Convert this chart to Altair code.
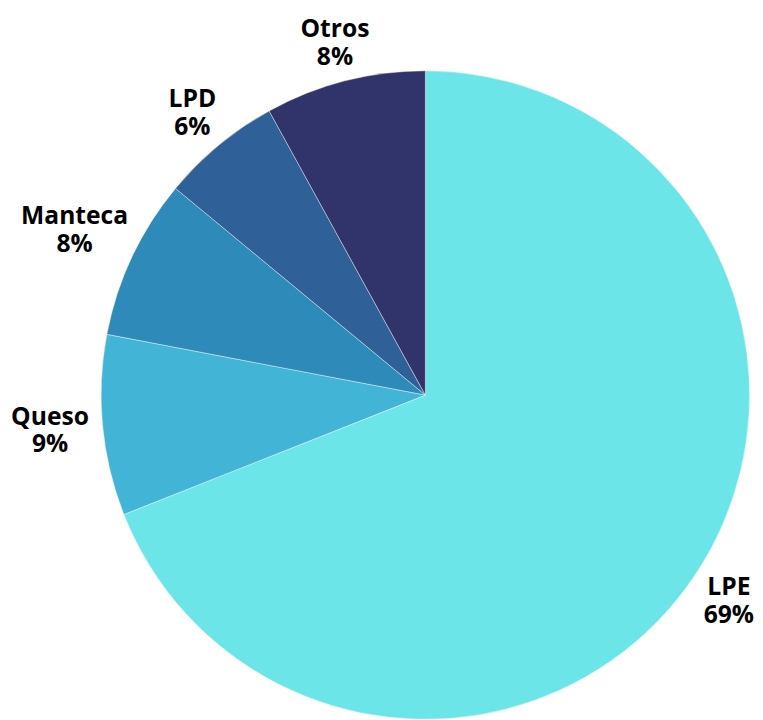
import altair as alt
import pandas as pd
import numpy as np

categories = ["LPE", "Queso", "Manteca", "LPD", "Otros"]
values = [69, 9, 8, 6, 8]
colors = ["#6be5e8", "#42b5d6", "#2e8ab8", "#2f6098", "#30346b"]

df = pd.DataFrame({"cat": categories, "value": values, "idx": list(range(len(categories)))})
df["pct"] = df["value"].astype(str) + "%"
df["label"] = df["cat"] + "\n" + df["pct"]
# label angle/radius derived from the values (mid-angle of each slice, label width)
total = df["value"].sum()
df["mid"] = (df["value"].cumsum() - df["value"] / 2) / total * 2 * np.pi
hw = df.apply(lambda r: max(len(r["cat"]), len(r["pct"])) * 7.8, axis=1)
df["lr"] = 353 + 0.74 * hw * np.abs(np.sin(df["mid"])) + 9 * np.abs(np.cos(df["mid"]))

CX, CY, R = 423.5, 387.5, 329

arcs = alt.Chart(df).mark_arc(outerRadius=R, stroke="white", strokeWidth=0.4).encode(
    theta=alt.Theta("value:Q", stack=True),
    order=alt.Order("idx:Q"),
    x=alt.value(CX),
    y=alt.value(CY),
    color=alt.Color("cat:N", scale=alt.Scale(domain=categories, range=colors), legend=None),
)

labels = alt.Chart(df).mark_text(
    font="Open Sans", fontWeight="bold", fontSize=25, lineBreak="\n",
    lineHeight=28, align="center", baseline="middle", color="black", dy=-14,
).encode(
    theta=alt.Theta("mid:Q", scale=None),
    radius=alt.Radius("lr:Q", scale=None),
    x=alt.value(CX),
    y=alt.value(CY),
    text="label:N",
)

chart = alt.layer(arcs, labels).properties(
    width=747, height=704, padding=0
).configure_view(stroke=None)

chart.save("out.html", embed_options={"renderer": "svg", "actions": False})
